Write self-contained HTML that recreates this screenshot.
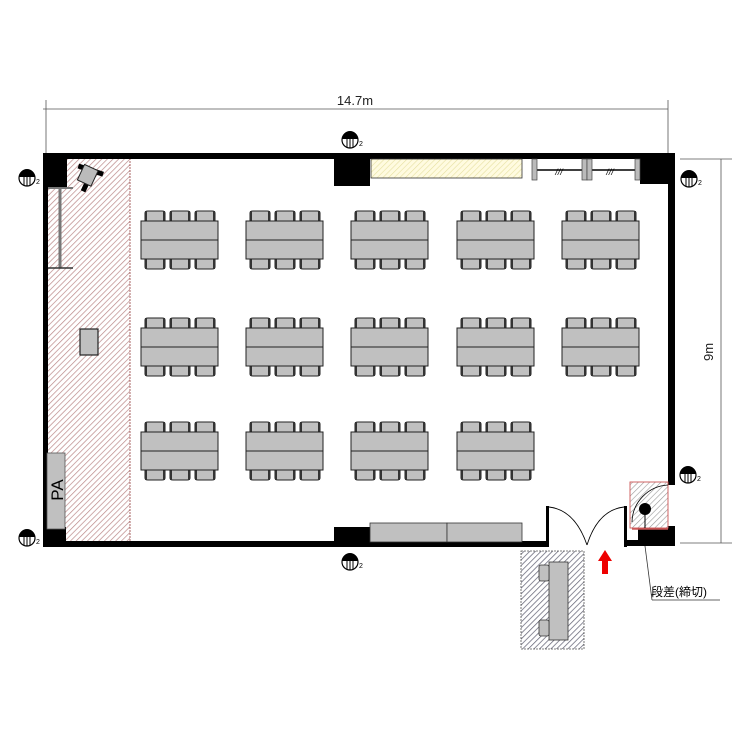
<!DOCTYPE html>
<html><head><meta charset="utf-8"><style>
html,body{margin:0;padding:0;background:#fff;}
svg{display:block;}
text{font-family:"Liberation Sans","Noto Sans CJK JP",sans-serif;}
</style></head><body>
<svg width="750" height="750" viewBox="0 0 750 750" xmlns="http://www.w3.org/2000/svg">
<defs>
<pattern id="hr" patternUnits="userSpaceOnUse" width="4" height="4" patternTransform="rotate(45)">
<rect width="4" height="4" fill="#fff"/><line x1="0" y1="0" x2="0" y2="4" stroke="#b88" stroke-width="1.4"/></pattern>
<pattern id="hg" patternUnits="userSpaceOnUse" width="4" height="4" patternTransform="rotate(45)">
<rect width="4" height="4" fill="#fff"/><line x1="0" y1="0" x2="0" y2="4" stroke="#999" stroke-width="1.2"/></pattern>
<pattern id="hb" patternUnits="userSpaceOnUse" width="4" height="4" patternTransform="rotate(45)">
<rect width="4" height="4" fill="#fff"/><line x1="0" y1="0" x2="0" y2="4" stroke="#667" stroke-width="1.5"/></pattern>
<pattern id="hy" patternUnits="userSpaceOnUse" width="4" height="4" patternTransform="rotate(45)">
<rect width="4" height="4" fill="#fffbe0"/><line x1="0" y1="0" x2="0" y2="4" stroke="#e6e0a0" stroke-width="1.2"/></pattern>
<g id="ch"><path d="M0,10 V2 Q0,0 3,0 H17 Q20,0 20,2 V10 Z" fill="#c0c0c0" stroke="#222" stroke-width="1"/><rect x="0" y="0" width="2" height="10" fill="#333"/><rect x="18" y="0" width="2" height="10" fill="#333"/></g>
<g id="tb">
<use href="#ch" x="4" y="-10"/><use href="#ch" x="29" y="-10"/><use href="#ch" x="54" y="-10"/>
<g transform="translate(0,38) scale(1,-1)"><use href="#ch" x="4" y="-10"/><use href="#ch" x="29" y="-10"/><use href="#ch" x="54" y="-10"/></g>
<rect x="0" y="0" width="77" height="38" fill="#c0c0c0" stroke="#222" stroke-width="1"/>
<line x1="0" y1="19" x2="77" y2="19" stroke="#222"/>
</g>
<g id="col"><circle cx="0" cy="0" r="8" fill="#fff" stroke="#000" stroke-width="1.2"/>
<path d="M-8,-1 A8,8 0 0 1 8,-1 Z" fill="#000"/>
<line x1="-3" y1="-2" x2="-3" y2="7" stroke="#000"/><line x1="0" y1="-2" x2="0" y2="8" stroke="#000"/><line x1="3" y1="-2" x2="3" y2="7" stroke="#000"/></g>
</defs>

<line x1="43" y1="109" x2="668" y2="109" stroke="#555" stroke-width="0.8"/>
<line x1="46" y1="100" x2="46" y2="153" stroke="#555" stroke-width="0.8"/>
<line x1="668" y1="100" x2="668" y2="153" stroke="#555" stroke-width="0.8"/>
<text x="355" y="105" font-size="13" text-anchor="middle" fill="#222">14.7m</text>
<line x1="721" y1="159" x2="721" y2="543" stroke="#555" stroke-width="0.8"/>
<line x1="680" y1="159" x2="732" y2="159" stroke="#555" stroke-width="0.8"/>
<line x1="680" y1="543" x2="732" y2="543" stroke="#555" stroke-width="0.8"/>
<text x="0" y="0" font-size="13" text-anchor="middle" fill="#222" transform="translate(713,352) rotate(-90)">9m</text>

<rect x="48" y="158" width="82" height="384" fill="url(#hr)"/>
<line x1="130" y1="158" x2="130" y2="542" stroke="#a66" stroke-width="1" stroke-dasharray="2,1"/>

<rect x="43" y="153" width="632" height="6" fill="#000"/>
<rect x="43" y="153" width="5" height="394" fill="#000"/>
<rect x="43" y="541" width="505" height="6" fill="#000"/>
<rect x="668" y="153" width="7" height="332" fill="#000"/>
<rect x="48" y="158" width="19" height="29" fill="#000"/>
<rect x="48" y="527" width="18" height="15" fill="#000"/>
<rect x="334" y="158" width="36" height="28" fill="#000"/>
<rect x="640" y="158" width="30" height="26" fill="#000"/>
<rect x="334" y="527" width="36" height="15" fill="#000"/>
<rect x="371" y="159" width="151" height="19" fill="url(#hy)" stroke="#333" stroke-width="0.8"/>
<line x1="532" y1="170" x2="640" y2="170" stroke="#000" stroke-width="1.5"/>
<rect x="532" y="159" width="5" height="21" fill="#bbb" stroke="#444" stroke-width="0.7"/>
<rect x="582" y="159" width="5" height="21" fill="#bbb" stroke="#444" stroke-width="0.7"/>
<rect x="587" y="159" width="5" height="21" fill="#bbb" stroke="#444" stroke-width="0.7"/>
<rect x="635" y="159" width="5" height="21" fill="#bbb" stroke="#444" stroke-width="0.7"/>
<text x="559" y="175" font-size="9" fill="#000" text-anchor="middle" font-style="italic">///</text>
<text x="610" y="175" font-size="9" fill="#000" text-anchor="middle" font-style="italic">///</text>

<rect x="370" y="523" width="77" height="19" fill="#c0c0c0" stroke="#333" stroke-width="0.8"/>
<rect x="447" y="523" width="75" height="19" fill="#c0c0c0" stroke="#333" stroke-width="0.8"/>

<rect x="546" y="506" width="3" height="41" fill="#000"/>
<rect x="624" y="506" width="3" height="41" fill="#000"/>
<path d="M549,507 Q575,510 587,545" fill="none" stroke="#000" stroke-width="0.9"/>
<path d="M624,507 Q598,510 587,545" fill="none" stroke="#000" stroke-width="0.9"/>
<rect x="624" y="540" width="51" height="6" fill="#000"/>
<rect x="638" y="526" width="37" height="20" fill="#000"/>
<rect x="630" y="482" width="38" height="46" fill="url(#hg)" stroke="#c55" stroke-width="0.9"/>
<path d="M668,485 A38,38 0 0 0 632,522" fill="none" stroke="#000" stroke-width="0.8"/>
<circle cx="645" cy="509" r="6" fill="#000"/>
<line x1="645" y1="509" x2="645" y2="528" stroke="#000"/>
<line x1="632" y1="529" x2="668" y2="529" stroke="#c55" stroke-width="1.5"/>
<line x1="645" y1="546" x2="652" y2="600" stroke="#333" stroke-width="0.8"/>
<line x1="652" y1="600" x2="720" y2="600" stroke="#333" stroke-width="0.8"/>
<text x="651" y="596" font-size="12" fill="#000">段差(締切)</text>

<rect x="521" y="551" width="63" height="98" fill="url(#hb)" stroke="#555" stroke-width="0.8" stroke-dasharray="2,1"/>
<rect x="549" y="562" width="19" height="78" fill="#c0c0c0" stroke="#333" stroke-width="0.8"/>
<rect x="539" y="565" width="10" height="16" rx="2" fill="#c0c0c0" stroke="#333" stroke-width="0.8"/>
<rect x="539" y="620" width="10" height="16" rx="2" fill="#c0c0c0" stroke="#333" stroke-width="0.8"/>
<path d="M605,550 L612,561 L608,561 L608,574 L602,574 L602,561 L598,561 Z" fill="#e00"/>

<line x1="60" y1="188" x2="60" y2="268" stroke="#777" stroke-width="3"/>
<line x1="48" y1="188" x2="73" y2="188" stroke="#777" stroke-width="2"/>
<line x1="48" y1="268" x2="73" y2="268" stroke="#333" stroke-width="1.5"/>
<g transform="translate(88,176) rotate(25)">
<line x1="-13" y1="-5" x2="13" y2="-8" stroke="#000" stroke-width="5"/>
<line x1="2" y1="0" x2="2" y2="16" stroke="#000" stroke-width="5"/>
<rect x="-8" y="-9" width="15" height="17" fill="#bbb" stroke="#222"/>
</g>
<rect x="80" y="329" width="18" height="26" fill="#c0c0c0" stroke="#222" stroke-width="1.2"/>
<rect x="47" y="453" width="18" height="76" fill="#c0c0c0" stroke="#555" stroke-width="0.8"/>
<text x="0" y="0" font-size="17" fill="#000" text-anchor="middle" transform="translate(63,490) rotate(-90)">PA</text>

<use href="#tb" x="141" y="221"/><use href="#tb" x="246" y="221"/><use href="#tb" x="351" y="221"/><use href="#tb" x="457" y="221"/><use href="#tb" x="562" y="221"/>
<use href="#tb" x="141" y="328"/><use href="#tb" x="246" y="328"/><use href="#tb" x="351" y="328"/><use href="#tb" x="457" y="328"/><use href="#tb" x="562" y="328"/>
<use href="#tb" x="141" y="432"/><use href="#tb" x="246" y="432"/><use href="#tb" x="351" y="432"/><use href="#tb" x="457" y="432"/>

<use href="#col" x="27" y="178"/><text x="36" y="184" font-size="7">2</text>
<use href="#col" x="350" y="140"/><text x="359" y="146" font-size="7">2</text>
<use href="#col" x="689" y="179"/><text x="698" y="185" font-size="7">2</text>
<use href="#col" x="688" y="475"/><text x="697" y="481" font-size="7">2</text>
<use href="#col" x="27" y="538"/><text x="36" y="544" font-size="7">2</text>
<use href="#col" x="350" y="562"/><text x="359" y="568" font-size="7">2</text>
</svg>
</body></html>
